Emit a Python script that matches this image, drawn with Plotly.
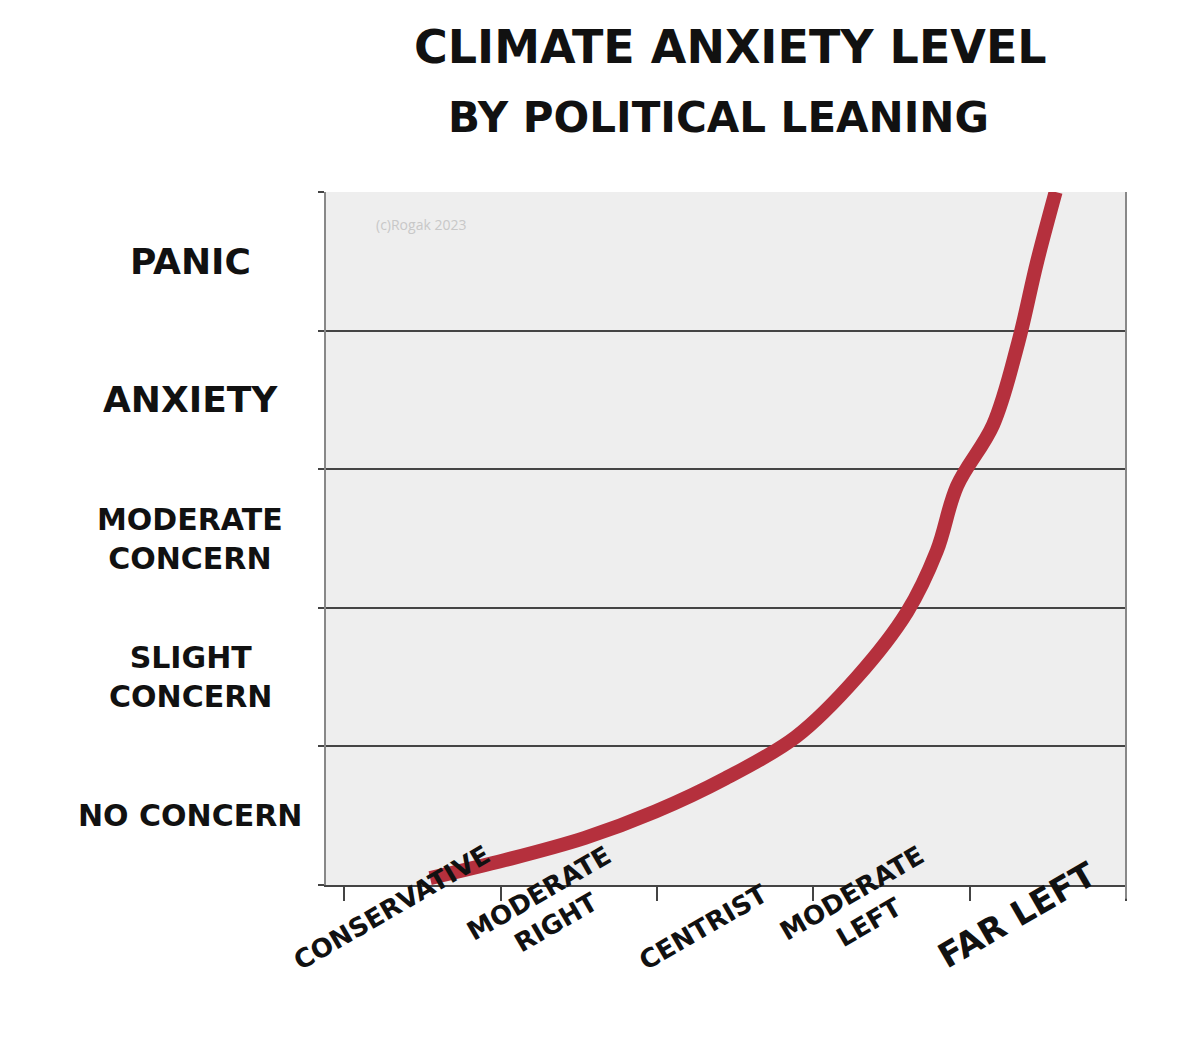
import plotly.graph_objects as go

levels = ["NO CONCERN", "SLIGHT<br>CONCERN", "MODERATE<br>CONCERN", "ANXIETY", "PANIC"]
leanings = ["CONSERVATIVE", "MODERATE<br>RIGHT", "CENTRIST", "MODERATE<br>LEFT", "FAR LEFT"]
curve_x = [0.55, 1.03, 1.54, 1.99, 2.44, 2.89, 3.28, 3.60, 3.79, 3.92, 4.15, 4.31, 4.43, 4.55]
curve_y = [0.05, 0.18, 0.34, 0.53, 0.77, 1.07, 1.50, 1.97, 2.41, 2.88, 3.32, 3.91, 4.49, 5.0]

FONT = "DejaVu Sans"
fig = go.Figure()
fig.add_trace(go.Scatter(x=curve_x, y=curve_y, mode="lines", line=dict(color="#b5303d", width=14, shape="spline"), hoverinfo="skip"))

fig.update_layout(
    width=1200, height=1053, paper_bgcolor="white", plot_bgcolor="#eeeeee", showlegend=False,
    margin=dict(l=318, r=82, t=184, b=176),
    xaxis=dict(range=[-0.116, 5.0], tickvals=[0, 1, 2, 3, 4, 5], ticktext=[""] * 6, ticks="outside",
               ticklen=14, tickcolor="#444", tickwidth=2, showgrid=False, zeroline=False,
               showline=True, linecolor="#444", linewidth=2),
    yaxis=dict(range=[0, 5], tickvals=[0, 1, 2, 3, 4, 5], ticktext=[""] * 6, ticks="outside", ticklen=6,
               tickcolor="#444", tickwidth=2, showgrid=True, gridcolor="#444", gridwidth=2, zeroline=False,
               showline=True, linecolor="#888", linewidth=2),
)
fig.add_shape(type="line", xref="paper", yref="paper", x0=1, x1=1, y0=-0.02, y1=1, line=dict(color="#888", width=2))

for i, lv in enumerate(levels):
    fig.add_annotation(x=-0.17, xref="paper", y=i + 0.5, yref="y", text="<b>" + lv + "</b>", showarrow=False,
                       xanchor="center", font=dict(family=FONT, size=30 if "<br>" in lv or i == 0 else 36, color="#111"))
for i, ln in enumerate(leanings):
    fig.add_annotation(x=i + 0.3, y=-0.135, xref="x", yref="paper", text="<b>" + ln + "</b>", showarrow=False,
                       textangle=-30, font=dict(family=FONT, size=26 if i != 4 else 34, color="#111"))

fig.add_annotation(x=0.506, xref="paper", y=1.0 + (190 - 18) / 685, yref="paper", text="<b>CLIMATE ANXIETY LEVEL</b>",
                   showarrow=False, font=dict(family=FONT, size=46, color="#111"))
fig.add_annotation(x=0.49, xref="paper", y=1.0 + (190 - 90) / 685, yref="paper", text="<b>BY POLITICAL LEANING</b>",
                   showarrow=False, font=dict(family=FONT, size=42, color="#111"))
fig.add_annotation(x=0.06, xref="paper", y=0.97, yref="paper", text="(c)Rogak 2023", showarrow=False,
                   xanchor="left", font=dict(family="Open Sans", size=14, color="#c8c8c8"))

fig.write_html("out.html")
